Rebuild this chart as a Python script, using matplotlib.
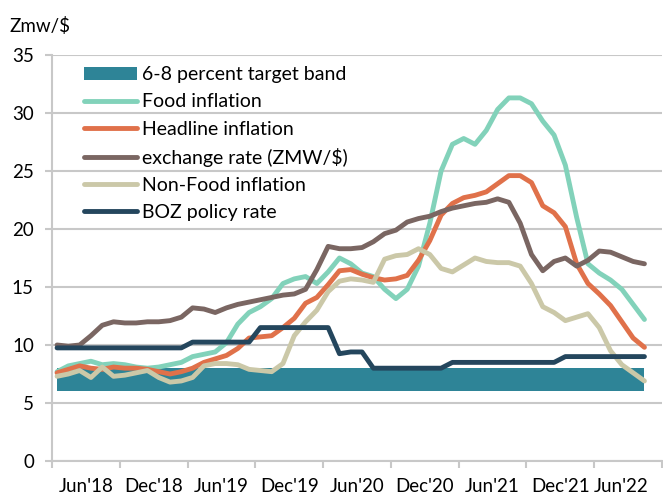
import matplotlib.pyplot as plt
import numpy as np

plt.rcParams['font.family'] = ['Lato', 'DejaVu Sans']

# monthly observations, Jun'18 .. Oct'22
months = np.arange(53)

food = [7.7, 8.2, 8.4, 8.6, 8.3, 8.4, 8.3, 8.1, 8.0, 8.1, 8.3, 8.5,
        9.0, 9.2, 9.4, 10.2, 11.8, 12.8, 13.3, 14.0, 15.3, 15.7, 15.9, 15.3,
        16.3, 17.5, 17.0, 16.2, 15.9, 14.8, 14.0, 14.8, 16.8, 20.5, 25.0, 27.3,
        27.8, 27.3, 28.5, 30.3, 31.3, 31.3, 30.8, 29.3, 28.1, 25.5, 21.0, 17.0,
        16.2, 15.6, 14.8, 13.5, 12.2]

headline = [7.6, 7.9, 8.2, 8.0, 7.9, 8.1, 8.0, 8.0, 7.9, 7.7, 7.5, 7.7,
            8.0, 8.5, 8.8, 9.1, 9.7, 10.6, 10.7, 10.8, 11.5, 12.3, 13.6, 14.1,
            15.2, 16.4, 16.5, 16.1, 15.8, 15.6, 15.7, 16.0, 17.3, 19.0, 21.2, 22.2,
            22.7, 22.9, 23.2, 23.9, 24.6, 24.6, 24.0, 22.0, 21.4, 20.2, 17.0, 15.3,
            14.4, 13.4, 12.0, 10.6, 9.8]

exchange = [10.0, 9.9, 10.0, 10.8, 11.7, 12.0, 11.9, 11.9, 12.0, 12.0, 12.1, 12.4,
            13.2, 13.1, 12.8, 13.2, 13.5, 13.7, 13.9, 14.1, 14.3, 14.4, 14.8, 16.5,
            18.5, 18.3, 18.3, 18.4, 18.9, 19.6, 19.9, 20.6, 20.9, 21.1, 21.5, 21.8,
            22.0, 22.2, 22.3, 22.6, 22.3, 20.5, 17.8, 16.4, 17.2, 17.5, 16.8, 17.3,
            18.1, 18.0, 17.6, 17.2, 17.0]

nonfood = [7.3, 7.5, 7.8, 7.2, 8.1, 7.3, 7.4, 7.6, 7.8, 7.2, 6.8, 6.9,
           7.2, 8.2, 8.4, 8.4, 8.3, 7.9, 7.8, 7.7, 8.4, 10.8, 12.0, 13.0,
           14.6, 15.5, 15.7, 15.6, 15.4, 17.4, 17.7, 17.8, 18.3, 17.8, 16.6, 16.3,
           16.9, 17.5, 17.2, 17.1, 17.1, 16.8, 15.3, 13.3, 12.8, 12.1, 12.4, 12.7,
           11.5, 9.5, 8.3, 7.6, 6.9]

policy = [9.75] * 12 + [10.25] * 6 + [11.5] * 7 + [9.25, 9.4, 9.4] + [8.0] * 7 \
         + [8.5] * 10 + [9.0] * 8

band_low, band_high = 6, 8

tick_labels = ["Jun'18", "Dec'18", "Jun'19", "Dec'19", "Jun'20",
               "Dec'20", "Jun'21", "Dec'21", "Jun'22"]

grey = '#C8C8C8'

fig = plt.figure(figsize=(6.63, 4.98), dpi=100)
ax = fig.add_axes([0.0784, 0.0743, 0.92, 0.8153])

ax.fill_between(months, band_low, band_high, color='#2E8497', lw=0,
                label='6-8 percent target band')
lw = 3.5
series = [
    (food, '#82D2BA', 'Food inflation'),
    (headline, '#E0714A', 'Headline inflation'),
    (exchange, '#7A6662', 'exchange rate (ZMW/$)'),
    (nonfood, '#CBC8A8', 'Non-Food inflation'),
    (policy, '#24465D', 'BOZ policy rate'),
]
for vals, col, name in series:
    ax.plot(months, vals, color=col, lw=lw, solid_capstyle='round',
            solid_joinstyle='round', label=name)

ax.set_ylim(0, 35)
ax.set_yticks(np.arange(0, 36, 5))
ax.set_xlim(-0.45, 52.3)
ax.set_xticks([6 * k - 0.45 for k in range(10)])
ax.set_xticklabels([])
label_pos = [6 * k + 2.55 for k in range(8)] + [49.9]
ax.set_xticks(label_pos, minor=True)
ax.set_xticklabels(tick_labels, minor=True)

ax.grid(axis='y', color=grey, lw=1.5)
ax.set_axisbelow(True)
for s in ['top', 'right']:
    ax.spines[s].set_visible(False)
for s in ['left', 'bottom']:
    ax.spines[s].set_color(grey)
    ax.spines[s].set_linewidth(1.5)

ax.tick_params(axis='y', length=5, width=1.5, color=grey, labelsize=13.5, pad=8)
ax.tick_params(axis='x', which='major', length=5, width=1.5, color=grey)
ax.tick_params(axis='x', which='minor', length=0, labelsize=13.5, pad=12)

fig.text(0.015, 0.948, 'Zmw/$', fontsize=13.5, ha='left', va='center')

leg = ax.legend(loc='upper left', bbox_to_anchor=(0.0525, 0.972), frameon=False,
                fontsize=14, handlelength=2.7, handletextpad=0.3,
                labelspacing=0.52, borderpad=0, borderaxespad=0)

fig.savefig('out.png', dpi=100)
